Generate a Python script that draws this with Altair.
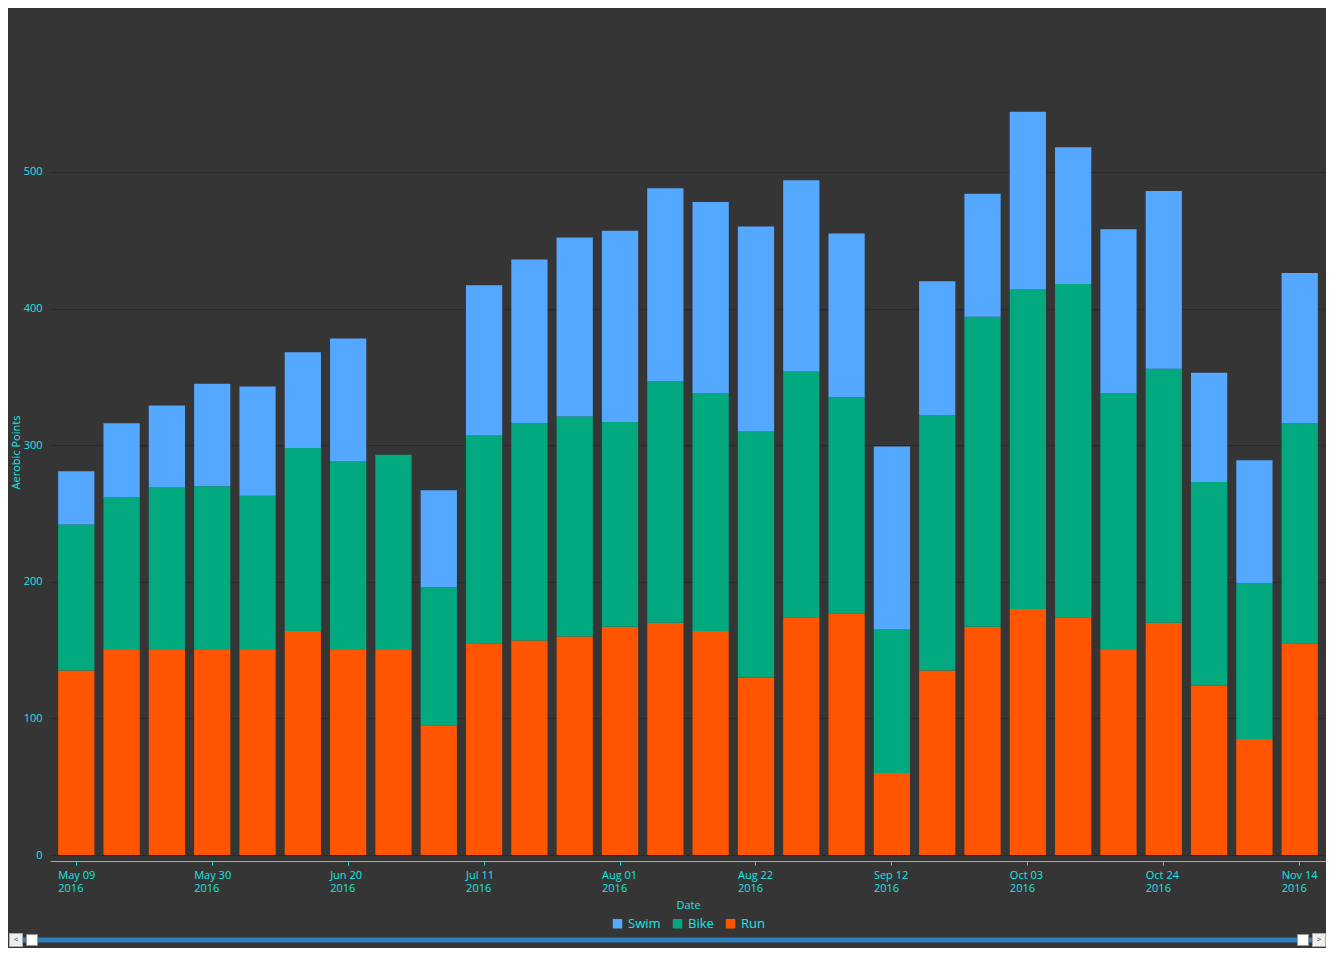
import altair as alt
import pandas as pd

dates = ["2016-05-09", "2016-05-16", "2016-05-23", "2016-05-30", "2016-06-06", "2016-06-13",
         "2016-06-20", "2016-06-27", "2016-07-04", "2016-07-11", "2016-07-18", "2016-07-25",
         "2016-08-01", "2016-08-08", "2016-08-15", "2016-08-22", "2016-08-29", "2016-09-05",
         "2016-09-12", "2016-09-19", "2016-09-26", "2016-10-03", "2016-10-10", "2016-10-17",
         "2016-10-24", "2016-10-31", "2016-11-07", "2016-11-14"]
run = [135, 150, 150, 150, 150, 164, 150, 150, 95, 155, 157, 160, 167, 170, 164, 130,
       174, 177, 60, 135, 167, 180, 174, 150, 170, 124, 85, 155]
bike = [107, 112, 119, 120, 113, 134, 138, 143, 101, 152, 159, 161, 150, 177, 174, 180,
        180, 158, 105, 187, 227, 234, 244, 188, 186, 149, 114, 161]
swim = [39, 54, 60, 75, 80, 70, 90, 0, 71, 110, 120, 131, 140, 141, 140, 150,
        140, 120, 134, 98, 90, 130, 100, 120, 130, 80, 90, 110]
sports = ["Swim", "Bike", "Run"]
colors = ["#54a8ff", "#02a97f", "#ff5500"]
tick_dates = dates[::3]

rows = []
for i, d in enumerate(dates):
    rows.append({"date": d, "sport": "Run", "points": run[i], "ord": 0})
    rows.append({"date": d, "sport": "Bike", "points": bike[i], "ord": 1})
    rows.append({"date": d, "sport": "Swim", "points": swim[i], "ord": 2})
df = pd.DataFrame(rows)

CYAN = "#19e6e6"
BG = "#353535"
FONT = "Open Sans"

bars = alt.Chart(df).mark_bar().encode(
    x=alt.X("date:N", sort=dates, title="Date",
            scale=alt.Scale(paddingInner=0.2, paddingOuter=0.18),
            axis=alt.Axis(values=tick_dates, labelAngle=0, offset=6,
                          labelExpr="[utcFormat(toDate(datum.value), '%b %d'), utcFormat(toDate(datum.value), '%Y')]",
                          labelAlign="left", labelOffset=-18, labelPadding=4,
                          labelLineHeight=13, tickSize=4, tickColor=CYAN,
                          domainColor=CYAN, labelColor=CYAN, titleColor=CYAN,
                          labelFontSize=11, titleFontSize=11, titleFontWeight="normal",
                          titlePadding=6, grid=False, labelFont=FONT, titleFont=FONT)),
    y=alt.Y("points:Q", stack="zero", title="Aerobic Points",
            scale=alt.Scale(domain=[0, 590], nice=False),
            axis=alt.Axis(values=[0, 100, 200, 300, 400, 500], domain=False, ticks=False,
                          labelPadding=8, labelColor=CYAN, titleColor=CYAN,
                          labelFontSize=11, titleFontSize=11, titleFontWeight="normal",
                          gridColor="#2a2a2a", gridWidth=1, titlePadding=2,
                          labelFont=FONT, titleFont=FONT)),
    color=alt.Color("sport:N", scale=alt.Scale(domain=sports, range=colors),
                    legend=alt.Legend(title=None, orient="none", direction="horizontal",
                                      legendX=561, legendY=868, symbolType="square",
                                      symbolSize=90, symbolStrokeWidth=0, labelColor=CYAN,
                                      labelFontSize=13, labelFont=FONT, columnPadding=10,
                                      symbolOpacity=1)),
    order=alt.Order("ord:Q", sort="ascending"),
)

slider = alt.Chart(pd.DataFrame({"a": [0]})).mark_rule(color="#2f80bc", strokeWidth=5).encode(
    x=alt.value(-40), x2=alt.value(1276), y=alt.value(891))

handles = alt.Chart(pd.DataFrame({"hx": [-18, 1253]})).mark_point(
    shape="square", filled=True, color="#ffffff", size=120, opacity=1,
    stroke="#999999", strokeWidth=1).encode(
    x=alt.X("hx:Q", scale=None), y=alt.value(891))

buttons = alt.Chart(pd.DataFrame({"bx": [-34, 1269], "t": ["<", ">"]})).mark_point(
    shape="square", filled=True, color="#eeeeee", size=170, opacity=1,
    stroke="#aaaaaa", strokeWidth=1).encode(
    x=alt.X("bx:Q", scale=None), y=alt.value(891))

btn_text = alt.Chart(pd.DataFrame({"bx": [-34, 1269], "t": ["<", ">"]})).mark_text(
    fontSize=8, color="#333333", font=FONT).encode(
    x=alt.X("bx:Q", scale=None), y=alt.value(891), text="t:N")

chart = alt.layer(bars, slider, handles, buttons, btn_text).resolve_scale(x="independent").properties(
    width=1276, height=806, background=BG,
    padding={"left": 42, "top": 41, "right": 0, "bottom": 93},
    autosize=alt.AutoSizeParams(type="none"),
).configure_view(stroke=None)

chart.save("out.html", embed_options={"renderer": "svg", "actions": False})
